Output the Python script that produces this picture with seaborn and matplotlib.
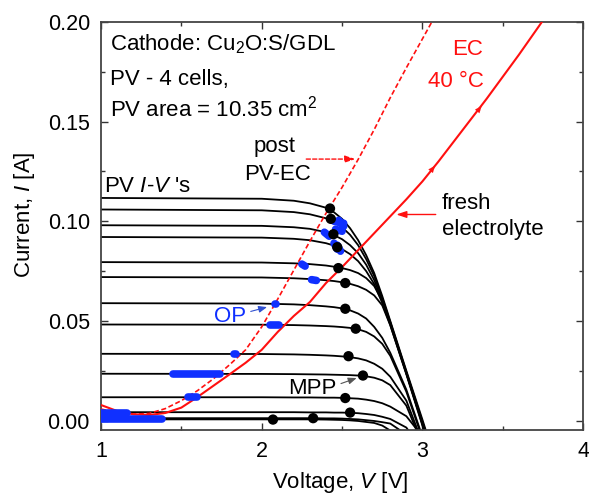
import matplotlib
matplotlib.use("Agg")
import matplotlib.pyplot as plt
from matplotlib.ticker import MultipleLocator, FormatStrFormatter
import numpy as np
import pandas as pd
import seaborn as sns

# ---------------- data ----------------
V_PV = [1.0, 2.0, 2.2, 2.3, 2.4, 2.45, 2.5, 2.55, 2.6, 2.65, 2.7, 2.75, 2.8, 2.9, 3.0, 3.1]
I_PV_01 = [.1117, .1113, .1103, .1090, .1068, .1045, .1012, .0965, .0905, .0830, .0740, .0625, .0500, .0250, .0005, -.025]
I_PV_02 = [.1059, .1055, .1046, .1035, .1015, .0997, .0970, .0932, .0880, .0810, .0725, .0615, .0494, .0244, -.0005, -.026]
I_PV_03 = [.0980, .0977, .0970, .0962, .0945, .0930, .0910, .0880, .0840, .0782, .0705, .0602, .0487, .0240, -.0010, -.026]
I_PV_04 = [.0921, .0918, .0912, .0905, .0890, .0878, .0860, .0835, .0800, .0750, .0685, .0590, .0480, .0236, -.0015, -.027]
I_PV_05 = [.0795, .0793, .0789, .0785, .0778, .0772, .0765, .0755, .0740, .0715, .0675, .0600, .0490, .0238, -.0020, -.027]
I_PV_06 = [.0720, .0718, .0714, .0710, .0704, .0700, .0694, .0686, .0674, .0656, .0628, .0578, .0478, .0232, -.0025, -.027]
I_PV_07 = [.0589, .0587, .0583, .0579, .0573, .0569, .0563, .0553, .0537, .0512, .0470, .0415, .0340, .0155, -.0080, -.030]
I_PV_08 = [.0482, .0481, .0479, .0477, .0474, .0472, .0469, .0465, .0458, .0445, .0422, .0385, .0325, .0145, -.0090, -.030]
I_PV_09 = [.0335, .0334, .0332, .0330, .0327, .0325, .0322, .0318, .0312, .0302, .0285, .0260, .0220, .0100, -.0110, -.030]
I_PV_10 = [.0235, .0234, .0233, .0232, .0231, .0230, .0229, .0228, .0226, .0222, .0215, .0202, .0178, .0075, -.0120, -.030]
I_PV_11 = [.0117, .0117, .0116, .0116, .0115, .0115, .0114, .0112, .0110, .0105, .0098, .0087, .0070, .0022, -.0080, -.027]
I_PV_12 = [.0042, .0042, .0042, .0041, .0041, .0040, .0040, .0039, .0037, .0033, .0028, .0019, .0008, -.0035, -.0150, -.030]
I_PV_13 = [.0012, .0012, .0012, .0012, .0011, .0011, .0010, .0008, .0006, .0002, -.0002, -.0008, -.0015, -.0070, -.0200, -.030]
I_PV_14 = [.0006, .0006, .0006, .0006, .0005, .0004, .0003, .0001, -.0002, -.0007, -.0012, -.0025, -.0050, -.0120, -.0250, -.035]

MPP_V = [2.425, 2.43, 2.446, 2.47, 2.477, 2.52, 2.52, 2.585, 2.54, 2.63, 2.52, 2.55, 2.32, 2.07]
MPP_I = [.1064, .1012, .0935, .0870, .0765, .0690, .0561, .0461, .0323, .0226, .0113, .0040, .0012, .0005]

EC_FRESH_V = [1.0, 1.1, 1.2, 1.3, 1.4, 1.5, 1.6, 1.7, 1.8, 1.9, 2.0, 2.1, 2.2, 2.3, 2.4, 2.5, 2.6,
              2.7, 2.8, 2.9, 3.0, 3.1, 3.2, 3.4, 3.6, 3.8]
EC_FRESH_I = [.0078, .0048, .0032, .0028, .0038, .0065, .0118, .0175, .0232, .0290, .0355, .0445, .0525,
              .0595, .0690, .0770, .0855, .0940, .1025, .1110, .1200, .1300, .1405, .1615, .1835, .2065]

EC_POST_V = [1.0, 1.1, 1.2, 1.3, 1.4, 1.5, 1.6, 1.7, 1.8, 1.9, 2.0, 2.1, 2.2, 2.3, 2.4, 2.5, 2.6,
             2.7, 2.8, 2.9, 3.0, 3.1]
EC_POST_I = [.0058, .0040, .0032, .0036, .0060, .0100, .0150, .0210, .0280, .0355, .0470, .0610, .0755,
             .0900, .1040, .1170, .1310, .1460, .1620, .1770, .1915, .2060]

# operating points (start/end of each recorded cluster)
OP_V0 = [1.00, 1.00, 1.00, 1.54, 1.45, 1.83, 2.05, 2.08, 2.25, 2.31, 2.39, 2.45, 2.46, 2.45, 2.47, 2.48]
OP_V1 = [1.16, 1.14, 1.38, 1.60, 1.74, 1.84, 2.11, 2.09, 2.27, 2.34, 2.42, 2.51, 2.50, 2.47, 2.49, 2.51]
OP_I0 = [.0036, .0020, .0007, .0117, .0235, .0336, .0478, .0583, .0785, .0707, .0945, .1000, .0960, .0890, .0880, .1005]
OP_I1 = [.0036, .0020, .0007, .0117, .0235, .0336, .0478, .0583, .0775, .0703, .0925, .0990, .0950, .0860, .0850, .0975]

X_TICKS = [1, 2, 3, 4]
Y_TICKS = [0.00, 0.05, 0.10, 0.15, 0.20]

# ---------------- styling ----------------
sns.set_style("ticks")
plt.rcParams["font.family"] = ["Liberation Sans", "DejaVu Sans"]
plt.rcParams["mathtext.fontset"] = "custom"
plt.rcParams["mathtext.rm"] = "Liberation Sans"
plt.rcParams["mathtext.it"] = "Liberation Sans:italic"
plt.rcParams["mathtext.bf"] = "Liberation Sans:bold"
plt.rcParams["text.color"] = "black"
plt.rcParams["axes.labelcolor"] = "black"

RED = "#ff1010"
BLUE = "#1030ff"
FS_T = 15.5
FS_A = 16

fig = plt.figure(figsize=(5.89, 4.99), dpi=100)
ax = fig.add_axes([0.1715, 0.138, 0.8185, 0.818])

# PV curves
pv_lists = [I_PV_01, I_PV_02, I_PV_03, I_PV_04, I_PV_05, I_PV_06, I_PV_07,
            I_PV_08, I_PV_09, I_PV_10, I_PV_11, I_PV_12, I_PV_13, I_PV_14]
pv_df = pd.concat([pd.DataFrame({"V": V_PV, "I": c, "curve": k}) for k, c in enumerate(pv_lists)],
                  ignore_index=True)
sns.lineplot(data=pv_df, x="V", y="I", units="curve", estimator=None, sort=False,
             color="black", lw=1.3, ax=ax, zorder=2)

# EC curves
sns.lineplot(x=EC_FRESH_V, y=EC_FRESH_I, color=RED, lw=1.5, ax=ax, zorder=3,
             estimator=None, sort=False)
sns.lineplot(x=EC_POST_V, y=EC_POST_I, color=RED, lw=1.2, ax=ax, zorder=3,
             estimator=None, sort=False, dashes=False, linestyle=(0, (3.0, 1.6)))

# operating points
op_rows = []
for k in range(len(OP_V0)):
    op_rows.append({"V": OP_V0[k], "I": OP_I0[k], "seg": k})
    op_rows.append({"V": OP_V1[k], "I": OP_I1[k], "seg": k})
op_df = pd.DataFrame(op_rows)
sns.lineplot(data=op_df, x="V", y="I", units="seg", estimator=None, sort=False,
             color=BLUE, lw=5.5, solid_capstyle="round", ax=ax, zorder=4)

# MPP points
sns.scatterplot(x=MPP_V, y=MPP_I, color="black", s=55, edgecolor="none", ax=ax, zorder=5)

# direction arrows on the fresh-electrolyte curve
for (xa, ya, xb, yb) in [(3.05, .1250, 3.09, .1290), (3.34, .1550, 3.38, .1590)]:
    ax.annotate("", xy=(xb, yb), xytext=(xa, ya),
                arrowprops=dict(arrowstyle="-|>,head_length=0.5,head_width=0.2",
                                color=RED, lw=0.1), zorder=6)

# ---------------- annotations ----------------
ax.text(1.056, .1859, "Cathode: Cu$_2$O:S/GDL", fontsize=FS_A, ha="left", va="baseline")
ax.text(1.056, .1683, "PV - 4 cells,", fontsize=FS_A, ha="left", va="baseline")
ax.text(1.056, .1524, "PV area = 10.35 cm$^2$", fontsize=FS_A, ha="left", va="baseline")

ax.text(3.38, .1834, "EC", fontsize=FS_A, color=RED, ha="right", va="baseline")
ax.text(3.38, .1675, "40 °C", fontsize=FS_A, color=RED, ha="right", va="baseline")

ax.text(2.08, .1347, "post", fontsize=FS_A, ha="center", va="baseline")
ax.text(2.10, .1206, "PV-EC", fontsize=FS_A, ha="center", va="baseline")
ax.annotate("", xy=(2.60, .1312), xytext=(2.26, .1312),
            arrowprops=dict(arrowstyle="-|>,head_length=0.6,head_width=0.2", color=RED,
                            lw=1.0, linestyle=(0, (3, 1.6))))

ax.text(3.12, .1064, "fresh", fontsize=FS_A, ha="left", va="baseline")
ax.text(3.12, .0930, "electrolyte", fontsize=FS_A, ha="left", va="baseline")
ax.annotate("", xy=(2.82, .1034), xytext=(3.10, .1034),
            arrowprops=dict(arrowstyle="-|>,head_length=0.6,head_width=0.2", color=RED, lw=1.0))

ax.text(1.02, .1146, "PV $I$-$V$ 's", fontsize=FS_A, ha="left", va="baseline")

ax.text(1.70, .0494, "OP", fontsize=FS_A, color=BLUE, ha="left", va="baseline")
ax.annotate("", xy=(2.05, .0573), xytext=(1.915, .0544),
            arrowprops=dict(arrowstyle="-|>,head_length=0.5,head_width=0.2", color="#3050d0", lw=0.8))

ax.text(2.166, .0134, "MPP", fontsize=FS_A, ha="left", va="baseline")
ax.annotate("", xy=(2.607, .0218), xytext=(2.477, .0181),
            arrowprops=dict(arrowstyle="-|>,head_length=0.5,head_width=0.2", color="#555555", lw=0.8))

# ---------------- axes ----------------
ax.set_xlim(1, 4)
ax.set_ylim(-0.0048, 0.20)
ax.set_xticks(X_TICKS)
ax.set_yticks(Y_TICKS)
ax.xaxis.set_minor_locator(MultipleLocator(0.5))
ax.yaxis.set_minor_locator(MultipleLocator(0.025))
ax.yaxis.set_major_formatter(FormatStrFormatter("%.2f"))
ax.xaxis.set_major_formatter(FormatStrFormatter("%d"))
ax.tick_params(which="both", direction="in", top=True, right=True, colors="#333333",
               labelcolor="black", labelsize=FS_T, width=1.0)
ax.tick_params(which="major", length=5, pad=8)
ax.tick_params(which="minor", length=3)
for sp in ax.spines.values():
    sp.set_color("#444444")
    sp.set_linewidth(1.3)
    sp.set_visible(True)

ax.set_xlabel("Voltage, $V$ [V]", fontsize=FS_A, color="black")
ax.set_ylabel("Current, $I$ [A]", fontsize=FS_A, color="black")
ax.xaxis.set_label_coords(0.496, -0.098)
ax.yaxis.set_label_coords(-0.133, 0.527)

fig.savefig("out.png", dpi=100)
